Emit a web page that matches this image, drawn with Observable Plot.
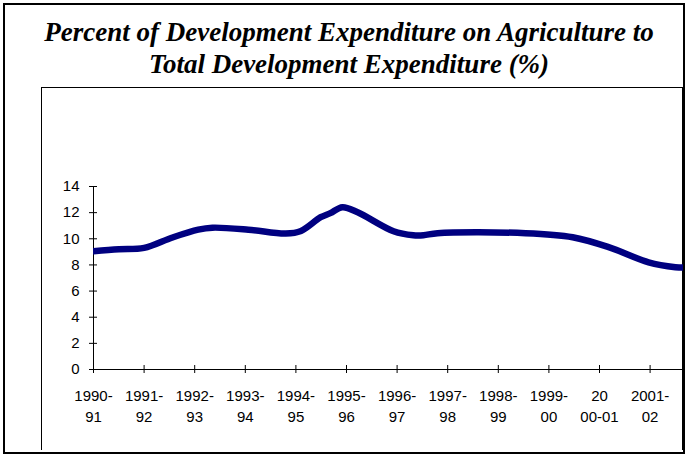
<!DOCTYPE html>
<html>
<head>
<meta charset="utf-8">
<script src="https://cdn.jsdelivr.net/npm/d3@7"></script>
<script src="https://cdn.jsdelivr.net/npm/@observablehq/plot@0.6"></script>
<style>
  html, body { margin: 0; padding: 0; background: #fff; }
  body { width: 686px; height: 456px; position: relative; overflow: hidden; }
  #outer { position: absolute; left: 3px; top: 3px; width: 678px; height: 447px; border: 2px solid #000; }
  #title { position: absolute; left: 3px; top: 16px; width: 692px; text-align: center;
           font-family: "Liberation Serif", "Times New Roman", serif; font-weight: bold; font-style: italic;
           font-size: 27px; line-height: 32px; color: #000; }
  #inner { position: absolute; left: 41px; top: 87px; width: 640px; height: 362px;
           border-top: 1.5px solid #000; border-left: 1.5px solid #000; border-right: 1.5px solid #000; }
  #chart { position: absolute; left: 41px; top: 87px; }
</style>
</head>
<body>
<div id="outer"></div>
<div id="title">Percent of Development Expenditure on Agriculture to<br>Total Development Expenditure (%)</div>
<div id="inner"></div>
<div id="chart"></div>
<script>
// Category tick labels (as wrapped in the original chart)
const periods = ["1990-\n91", "1991-\n92", "1992-\n93", "1993-\n94", "1994-\n95", "1995-\n96",
                 "1996-\n97", "1997-\n98", "1998-\n99", "1999-\n00", "20\n00-01", "2001-\n02"];
const yTicks = [0, 2, 4, 6, 8, 10, 12, 14];
// Series: position along the period axis (0 = 1990-91) and percent value
const seriesPos = [0, 0.5, 1, 1.56, 2.07, 2.35, 3.06, 3.8, 4.1, 4.49, 4.68, 4.92, 5.22, 5.93, 6.32, 6.52, 6.8, 8.54, 9.47, 10.18, 10.97, 11.5, 11.66];
const seriesVal = [9.05, 9.2, 9.3, 10.1, 10.7, 10.85, 10.7, 10.4, 10.6, 11.65, 11.96, 12.42, 12.03, 10.58, 10.27, 10.27, 10.43, 10.43, 10.12, 9.36, 8.2, 7.83, 7.8];

const rows = seriesPos.map((p, i) => ({pos: p, val: seriesVal[i]}));
const tickIdx = periods.map((_, i) => i);

const chart = Plot.plot({
  width: 642,
  height: 369,
  marginLeft: 52,
  marginRight: 0,
  marginTop: 99,
  marginBottom: 87,
  x: {domain: [0, 11.66]},
  y: {domain: [0, 14]},
  style: {fontFamily: "'Liberation Sans', Arial, sans-serif", fontSize: "15px", color: "#000", background: "transparent", overflow: "visible"},
  marks: [
    Plot.axisY({ticks: yTicks, tickSize: 8, dx: 4, tickPadding: 10, label: null, strokeWidth: 1}),
    Plot.axisX({ticks: tickIdx, tickFormat: i => periods[i], tickSize: 8, dy: -4, tickPadding: 13, label: null, lineHeight: 1.4}),
    Plot.ruleX([0], {stroke: "#000", strokeWidth: 1}),
    Plot.ruleY([0], {stroke: "#000", strokeWidth: 1}),
    Plot.line(rows, {x: "pos", y: "val", stroke: "#000080", strokeWidth: 6.5, curve: "catmull-rom", strokeLinejoin: "round", strokeLinecap: "round", clip: true})
  ]
});
document.getElementById("chart").appendChild(chart);
</script>
</body>
</html>
